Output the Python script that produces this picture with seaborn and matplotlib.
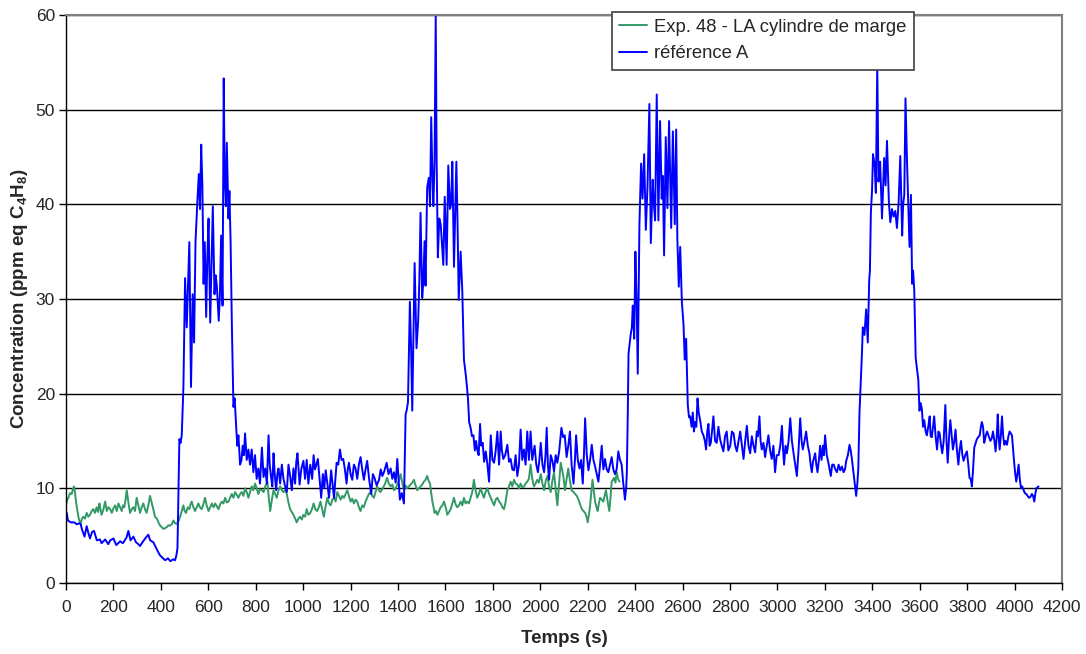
import matplotlib
matplotlib.use("Agg")
import matplotlib.pyplot as plt
import seaborn as sns
import pandas as pd

# référence A  (temps en s, concentration en ppm eq C4H8)
ref_t = [0, 3, 8, 20, 35, 45, 55, 62, 68, 78, 87, 95, 101, 110, 118, 130, 143, 150, 165, 178,
         186, 200, 212, 228, 240, 255, 263, 272, 284, 295, 305, 312, 325, 340, 347, 355, 368, 380, 390, 397,
         410, 418, 430, 440, 452, 460, 466, 470, 478, 483, 488, 495, 502, 509, 520, 527, 534, 540, 546, 554,
         560, 565, 570, 575, 580, 585, 591, 596, 601, 608, 614, 619, 626, 631, 636, 644, 649, 654, 660, 665,
         669, 674, 678, 685, 689, 694, 699, 706, 711, 716, 722, 727, 734, 740, 745, 750, 755, 762, 769, 776,
         783, 790, 797, 804, 811, 818, 826, 833, 840, 847, 854, 859, 864, 870, 875, 880, 886, 891, 896, 903,
         910, 917, 924, 931, 938, 945, 952, 959, 966, 971, 976, 985, 992, 1001, 1008, 1015, 1022, 1030, 1038, 1044,
         1050, 1062, 1069, 1076, 1083, 1089, 1095, 1102, 1109, 1118, 1124, 1130, 1136, 1141, 1148, 1155, 1162, 1169, 1176, 1183,
         1188, 1193, 1200, 1207, 1214, 1221, 1228, 1235, 1242, 1249, 1256, 1263, 1270, 1278, 1287, 1294, 1301, 1310, 1320, 1327,
         1334, 1342, 1352, 1360, 1369, 1376, 1383, 1390, 1397, 1402, 1408, 1416, 1425, 1432, 1437, 1442, 1450, 1455, 1460, 1465,
         1470, 1478, 1485, 1490, 1495, 1502, 1507, 1512, 1516, 1523, 1530, 1535, 1540, 1545, 1549, 1554, 1559, 1563, 1568, 1574,
         1580, 1585, 1591, 1597, 1605, 1612, 1619, 1624, 1629, 1636, 1641, 1646, 1651, 1656, 1664, 1671, 1678, 1687, 1695, 1700,
         1706, 1712, 1718, 1724, 1729, 1734, 1740, 1746, 1751, 1757, 1763, 1770, 1777, 1784, 1791, 1798, 1805, 1812, 1819, 1826,
         1833, 1838, 1844, 1852, 1861, 1868, 1875, 1882, 1889, 1896, 1903, 1910, 1917, 1924, 1931, 1938, 1945, 1952, 1959, 1966,
         1976, 1983, 1990, 1996, 2002, 2009, 2016, 2022, 2027, 2032, 2037, 2044, 2051, 2058, 2065, 2072, 2080, 2089, 2096, 2103,
         2111, 2118, 2125, 2132, 2140, 2146, 2151, 2158, 2165, 2172, 2179, 2184, 2189, 2196, 2203, 2210, 2217, 2224, 2231, 2238,
         2245, 2252, 2259, 2266, 2273, 2280, 2287, 2294, 2301, 2308, 2315, 2322, 2329, 2336, 2343, 2350, 2357, 2362, 2365, 2369,
         2372, 2381, 2386, 2390, 2396, 2401, 2406, 2411, 2418, 2425, 2431, 2438, 2445, 2452, 2460, 2466, 2474, 2479, 2484, 2491,
         2498, 2505, 2512, 2517, 2522, 2529, 2536, 2543, 2552, 2559, 2567, 2573, 2578, 2584, 2590, 2597, 2604, 2609, 2615, 2622,
         2627, 2632, 2638, 2643, 2648, 2653, 2658, 2663, 2668, 2674, 2681, 2688, 2694, 2699, 2704, 2709, 2714, 2719, 2724, 2730,
         2737, 2744, 2751, 2758, 2765, 2772, 2779, 2786, 2793, 2801, 2808, 2815, 2822, 2829, 2836, 2843, 2850, 2857, 2864, 2871,
         2878, 2885, 2892, 2899, 2906, 2913, 2918, 2924, 2929, 2934, 2941, 2948, 2955, 2962, 2969, 2976, 2983, 2990, 2997, 3005,
         3012, 3019, 3024, 3028, 3034, 3040, 3047, 3054, 3061, 3068, 3075, 3082, 3089, 3096, 3102, 3107, 3114, 3121, 3128, 3135,
         3140, 3145, 3150, 3155, 3159, 3164, 3169, 3175, 3180, 3186, 3192, 3196, 3201, 3208, 3215, 3220, 3225, 3231, 3237, 3244,
         3251, 3258, 3265, 3272, 3279, 3285, 3290, 3297, 3304, 3309, 3314, 3319, 3324, 3328, 3332, 3337, 3341, 3346, 3352, 3356,
         3360, 3367, 3374, 3381, 3387, 3390, 3394, 3399, 3403, 3410, 3415, 3421, 3426, 3433, 3441, 3450, 3456, 3462, 3470, 3476,
         3483, 3490, 3497, 3504, 3511, 3518, 3526, 3530, 3535, 3540, 3546, 3552, 3557, 3563, 3568, 3572, 3577, 3583, 3588, 3594,
         3599, 3604, 3609, 3614, 3619, 3625, 3630, 3636, 3642, 3646, 3651, 3656, 3661, 3667, 3673, 3679, 3684, 3690, 3695, 3701,
         3708, 3713, 3718, 3724, 3729, 3735, 3740, 3746, 3751, 3757, 3763, 3768, 3774, 3780, 3785, 3792, 3799, 3805, 3810, 3815,
         3820, 3825, 3830, 3836, 3841, 3847, 3853, 3858, 3862, 3867, 3872, 3878, 3884, 3891, 3898, 3904, 3909, 3915, 3920, 3925,
         3929, 3933, 3937, 3942, 3947, 3952, 3957, 3962, 3968, 3974, 3979, 3984, 3989, 3994, 3999, 4003, 4007, 4012, 4017, 4022,
         4027, 4032, 4038, 4043, 4049, 4055, 4061, 4067, 4073, 4078, 4083, 4088, 4092, 4101]
ref_c = [6.5, 7.4, 6.6, 6.4, 6.4, 6.2, 6.3, 6.2, 5.6, 4.9, 6.0, 5.2, 4.7, 5.4, 5.5, 4.5, 4.6, 4.2, 4.6, 4.1,
         4.5, 4.7, 4.0, 4.4, 4.2, 4.8, 5.5, 4.5, 4.9, 4.3, 4.1, 3.9, 4.4, 4.9, 5.1, 4.5, 4.3, 3.7, 3.2, 2.9,
         2.6, 2.4, 2.6, 2.3, 2.5, 2.4, 3.0, 3.7, 15.2, 14.8, 15.6, 20.7, 32.2, 27.0, 36.0, 20.7, 30.5, 25.4, 36.0, 40.4,
         43.2, 39.5, 46.3, 42.0, 31.6, 36.0, 28.1, 34.5, 38.5, 27.5, 34.0, 39.8, 30.5, 32.5, 31.4, 27.7, 30.5, 36.7, 29.3, 53.3,
         43.0, 39.8, 46.5, 38.5, 41.4, 36.0, 27.7, 18.6, 19.5, 17.2, 14.5, 15.6, 12.5, 13.0, 14.5, 13.5, 15.8, 13.0, 14.1, 12.5,
         14.1, 11.7, 13.5, 11.0, 12.1, 10.5, 14.3, 11.2, 12.1, 10.5, 15.6, 12.5, 11.3, 10.2, 13.7, 11.5, 9.8, 11.5, 12.1, 10.5,
         12.5, 11.0, 10.2, 9.6, 12.5, 11.3, 9.8, 12.1, 10.5, 12.8, 13.7, 10.4, 12.0, 12.9, 11.0, 13.0, 10.5, 12.5, 11.0, 13.5,
         12.0, 13.1, 11.0, 9.0, 11.5, 10.0, 11.9, 10.5, 9.0, 11.9, 10.5, 9.0, 11.0, 12.7, 12.5, 14.1, 13.0, 13.1, 12.0, 10.5,
         12.0, 12.7, 11.5, 10.9, 12.5, 12.1, 11.0, 12.5, 13.3, 12.0, 10.9, 12.0, 12.9, 11.0, 9.4, 11.5, 11.1, 10.3, 10.9, 12.0,
         11.3, 11.8, 12.7, 11.5, 12.1, 11.0, 11.7, 10.6, 13.1, 11.0, 8.8, 9.5, 8.4, 17.8, 18.3, 19.1, 29.7, 25.0, 18.2, 26.0,
         33.8, 24.8, 27.7, 32.0, 39.1, 30.1, 32.0, 36.1, 31.4, 41.8, 42.8, 39.8, 49.2, 43.0, 39.8, 44.5, 60.0, 44.3, 34.4, 38.5,
         37.9, 36.0, 33.6, 40.8, 33.6, 44.1, 39.5, 40.0, 44.5, 33.4, 39.0, 44.5, 38.0, 29.9, 35.0, 30.9, 23.6, 21.7, 19.5, 17.0,
         16.4, 15.5, 15.6, 14.0, 15.0, 14.1, 13.5, 16.8, 14.5, 14.8, 12.8, 13.9, 12.5, 10.7, 15.6, 13.0, 12.7, 14.0, 16.0, 12.5,
         16.0, 14.0, 13.1, 13.5, 14.6, 12.8, 13.1, 12.0, 11.9, 13.5, 11.3, 12.5, 16.2, 13.0, 14.1, 12.5, 16.0, 13.0, 16.0, 13.0,
         14.5, 12.5, 11.7, 13.0, 14.8, 12.5, 11.7, 13.5, 16.4, 12.5, 10.9, 13.5, 12.9, 11.8, 13.5, 12.7, 14.0, 16.4, 15.4, 15.6,
         13.3, 14.5, 16.0, 12.5, 10.5, 13.0, 15.6, 13.0, 12.1, 13.0, 10.5, 13.5, 17.4, 13.5, 11.9, 13.0, 14.6, 13.0, 12.3, 11.5,
         10.7, 12.5, 14.5, 12.0, 13.1, 12.0, 11.7, 12.5, 13.3, 12.0, 11.5, 12.0, 13.9, 13.0, 12.5, 10.5, 8.8, 10.0, 11.7, 18.0,
         24.2, 26.2, 27.0, 29.3, 25.8, 35.0, 30.0, 22.1, 37.9, 44.3, 40.6, 45.3, 37.3, 41.8, 50.6, 35.9, 42.6, 40.0, 38.3, 51.6,
         38.3, 48.8, 40.6, 43.0, 34.6, 47.1, 39.6, 48.8, 37.5, 47.7, 37.9, 47.9, 36.3, 31.3, 35.5, 29.7, 27.3, 23.6, 25.8, 18.8,
         17.5, 17.6, 16.5, 18.0, 16.0, 17.0, 16.5, 19.5, 18.0, 17.2, 16.0, 15.6, 15.0, 14.1, 16.0, 16.8, 14.5, 14.8, 16.0, 17.6,
         15.0, 14.8, 16.5, 15.2, 14.5, 13.9, 15.5, 16.0, 14.0, 14.5, 16.0, 15.8, 14.5, 13.9, 15.0, 16.0, 14.5, 13.1, 15.0, 16.6,
         14.5, 13.7, 15.5, 14.5, 13.8, 16.0, 15.5, 17.6, 15.0, 14.1, 14.8, 13.3, 14.5, 15.6, 14.0, 13.1, 14.5, 11.7, 13.5, 13.5,
         14.5, 16.6, 14.0, 12.5, 14.5, 13.7, 15.0, 17.4, 15.0, 13.7, 12.5, 11.3, 14.0, 17.4, 15.0, 14.1, 15.0, 16.0, 14.5, 13.7,
         12.5, 11.7, 12.8, 13.3, 13.7, 12.5, 11.7, 13.0, 14.5, 13.0, 14.5, 13.5, 15.6, 13.5, 12.7, 12.0, 11.3, 12.5, 12.5, 12.0,
         11.7, 12.5, 11.9, 12.3, 11.7, 12.0, 12.9, 13.5, 14.6, 14.0, 13.1, 12.0, 10.9, 10.0, 9.2, 10.5, 12.1, 18.0, 21.5, 24.0,
         27.0, 26.2, 28.9, 25.4, 32.0, 33.0, 39.1, 41.5, 45.3, 44.1, 41.2, 54.7, 42.4, 44.5, 38.5, 44.9, 42.0, 46.7, 40.2, 38.1,
         39.5, 38.7, 39.3, 37.5, 40.2, 45.1, 36.7, 40.0, 41.0, 51.2, 44.9, 39.8, 35.5, 41.0, 31.6, 33.0, 30.9, 23.8, 22.7, 21.5,
         18.2, 19.0, 18.4, 16.5, 17.2, 16.0, 15.6, 16.5, 17.6, 15.5, 15.4, 16.5, 17.6, 15.5, 14.1, 16.0, 15.8, 14.5, 13.7, 15.0,
         18.8, 15.0, 12.7, 15.5, 17.2, 15.5, 14.1, 15.0, 16.2, 14.0, 12.5, 14.0, 15.0, 13.5, 12.9, 13.5, 13.9, 12.5, 11.1, 11.0,
         10.2, 12.0, 14.3, 14.8, 15.2, 15.4, 15.6, 16.5, 17.0, 16.5, 14.8, 15.5, 16.0, 15.5, 15.0, 15.3, 16.0, 15.0, 13.9, 15.5,
         17.8, 15.5, 14.1, 15.5, 17.6, 15.5, 14.6, 15.0, 14.6, 15.5, 16.0, 15.8, 15.6, 14.0, 12.5, 11.5, 10.7, 11.5, 12.5, 11.0,
         10.0, 10.2, 9.8, 9.5, 9.4, 9.2, 9.0, 9.1, 9.4, 9.2, 8.6, 9.5, 10.0, 10.2]

# Exp. 48 - LA cylindre de marge
exp_t = [0, 5, 10, 17, 24, 30, 34, 38, 42, 47, 52, 57, 62, 67, 73, 80, 87, 94, 101, 108,
         115, 122, 129, 135, 141, 145, 150, 158, 165, 172, 179, 186, 193, 200, 207, 214, 221, 228, 235, 240,
         246, 251, 256, 263, 270, 277, 284, 291, 298, 305, 312, 319, 326, 333, 340, 347, 354, 361, 368, 375,
         383, 390, 397, 404, 411, 418, 425, 432, 439, 446, 453, 460, 467, 474, 481, 488, 495, 500, 506, 513,
         520, 525, 530, 537, 544, 551, 558, 565, 572, 579, 586, 593, 601, 608, 615, 622, 629, 636, 643, 650,
         657, 664, 671, 678, 685, 692, 699, 706, 713, 720, 727, 734, 741, 748, 755, 762, 769, 776, 783, 790,
         797, 804, 811, 818, 826, 833, 840, 845, 849, 855, 861, 868, 875, 882, 889, 896, 903, 910, 917, 924,
         931, 938, 945, 952, 959, 966, 973, 980, 987, 994, 1001, 1008, 1015, 1022, 1030, 1037, 1044, 1051, 1059, 1066,
         1073, 1080, 1087, 1094, 1102, 1109, 1116, 1123, 1130, 1137, 1144, 1151, 1158, 1165, 1172, 1179, 1186, 1193, 1200, 1207,
         1214, 1221, 1228, 1235, 1242, 1249, 1256, 1263, 1270, 1277, 1284, 1291, 1298, 1305, 1312, 1319, 1326, 1333, 1340, 1347,
         1354, 1361, 1369, 1376, 1383, 1390, 1397, 1404, 1411, 1418, 1425, 1432, 1439, 1446, 1453, 1460, 1467, 1474, 1481, 1488,
         1495, 1502, 1509, 1516, 1523, 1529, 1535, 1540, 1545, 1550, 1554, 1560, 1566, 1573, 1580, 1587, 1594, 1601, 1608, 1615,
         1622, 1629, 1636, 1643, 1650, 1657, 1664, 1671, 1678, 1685, 1692, 1699, 1706, 1713, 1720, 1727, 1734, 1741, 1748, 1755,
         1762, 1769, 1777, 1784, 1791, 1798, 1805, 1812, 1819, 1826, 1833, 1840, 1847, 1854, 1861, 1868, 1875, 1882, 1889, 1896,
         1903, 1910, 1917, 1924, 1931, 1938, 1945, 1952, 1959, 1966, 1973, 1980, 1987, 1994, 2002, 2009, 2016, 2023, 2030, 2037,
         2044, 2051, 2058, 2065, 2072, 2079, 2086, 2092, 2097, 2104, 2111, 2118, 2125, 2132, 2140, 2147, 2154, 2161, 2168, 2175,
         2182, 2189, 2195, 2200, 2205, 2210, 2215, 2220, 2226, 2231, 2237, 2242, 2247, 2252, 2259, 2266, 2271, 2277, 2284, 2291,
         2296, 2301, 2306, 2311, 2317, 2322, 2328, 2334]
exp_c = [8.2, 8.8, 9.0, 9.5, 9.4, 10.0, 10.2, 9.5, 8.6, 7.8, 7.0, 6.5, 6.25, 6.8, 7.0, 6.8, 7.4, 7.0, 7.2, 7.6,
         7.8, 7.4, 8.0, 7.5, 8.4, 7.8, 7.2, 7.8, 8.6, 7.6, 8.0, 7.8, 7.4, 7.9, 8.2, 7.6, 8.4, 8.0, 7.6, 8.2,
         8.0, 8.8, 9.8, 8.5, 7.4, 7.8, 8.0, 7.6, 9.0, 8.2, 7.4, 8.0, 8.4, 7.8, 7.4, 8.2, 9.2, 8.5, 7.8, 7.0,
         6.8, 6.4, 6.05, 5.9, 5.7, 5.8, 5.9, 6.1, 6.05, 6.2, 6.6, 6.3, 6.25, 6.5, 7.0, 7.6, 8.2, 7.6, 7.4, 8.0,
         7.8, 8.3, 8.6, 8.0, 7.6, 8.0, 8.4, 8.0, 7.8, 8.3, 9.0, 8.2, 7.6, 8.0, 8.4, 8.0, 8.4, 8.1, 7.8, 8.3,
         8.6, 8.4, 9.0, 8.5, 8.6, 9.0, 9.4, 9.0, 9.6, 9.3, 9.0, 9.4, 9.6, 9.2, 10.0, 9.6, 9.0, 9.6, 10.2, 9.8,
         10.5, 10.0, 9.4, 9.9, 9.8, 9.6, 10.2, 10.5, 10.7, 9.0, 7.6, 8.8, 9.8, 9.4, 9.0, 9.8, 10.2, 9.8, 9.6, 9.8,
         9.4, 8.5, 7.8, 7.5, 7.2, 6.8, 6.4, 6.8, 7.0, 6.7, 7.2, 7.0, 7.8, 7.2, 7.4, 7.8, 8.4, 7.8, 7.6, 8.0,
         8.6, 7.8, 7.0, 8.0, 9.0, 8.4, 8.2, 8.8, 9.0, 8.6, 9.6, 9.2, 8.8, 9.2, 9.0, 9.4, 9.8, 9.2, 8.6, 8.9,
         8.4, 8.8, 8.6, 8.0, 7.6, 8.2, 8.0, 8.6, 9.0, 9.4, 9.6, 9.2, 9.0, 9.6, 10.2, 9.8, 9.6, 9.9, 10.2, 10.6,
         11.1, 10.5, 10.2, 10.4, 9.8, 10.0, 10.4, 10.8, 11.5, 10.6, 9.8, 10.3, 10.0, 10.2, 10.4, 10.6, 10.9, 10.3, 9.8, 10.0,
         10.2, 10.4, 10.7, 10.9, 11.3, 10.8, 10.5, 9.5, 8.6, 8.0, 7.4, 7.6, 7.2, 7.6, 8.0, 8.2, 8.6, 8.0, 7.2, 7.5,
         7.8, 8.4, 9.0, 8.3, 8.0, 8.2, 8.6, 8.2, 9.0, 8.4, 8.6, 8.4, 9.0, 9.6, 10.9, 9.8, 9.0, 9.4, 10.0, 9.5,
         9.0, 9.6, 10.0, 9.4, 9.0, 8.6, 8.2, 8.8, 9.0, 8.6, 8.4, 8.0, 7.8, 8.6, 9.8, 10.2, 10.7, 10.2, 10.9, 10.5,
         10.4, 10.0, 10.5, 10.1, 10.2, 10.5, 10.7, 11.0, 12.5, 11.0, 10.2, 10.5, 10.9, 10.6, 11.5, 10.5, 9.8, 10.8, 11.3, 10.2,
         9.6, 10.8, 11.7, 9.8, 8.2, 10.5, 12.7, 12.0, 11.3, 9.8, 11.0, 12.1, 10.8, 9.8, 9.6, 9.4, 9.2, 8.8, 8.3, 7.8,
         7.6, 7.4, 7.0, 6.4, 7.2, 8.2, 9.5, 10.9, 9.6, 8.6, 8.0, 7.6, 8.4, 9.0, 8.8, 8.6, 9.2, 9.8, 8.6, 7.6,
         9.0, 10.7, 10.9, 11.1, 10.6, 11.7, 11.0, 10.7]

exp_label = "Exp. 48 - LA cylindre de marge"
ref_label = "référence A"

df_exp = pd.DataFrame({"Temps": exp_t, "Conc": exp_c, "serie": exp_label})
df_ref = pd.DataFrame({"Temps": ref_t, "Conc": ref_c, "serie": ref_label})
df = pd.concat([df_exp, df_ref], ignore_index=True)

sns.set_style("white")
plt.rcParams['font.family'] = ['Liberation Sans', 'DejaVu Sans']
plt.rcParams['mathtext.fontset'] = 'custom'
plt.rcParams['mathtext.rm'] = 'Liberation Sans'
plt.rcParams['mathtext.bf'] = 'Liberation Sans:bold'

fig = plt.figure(figsize=(10.86, 6.54), dpi=100)
ax = fig.add_axes([0.0608, 0.1086, 0.9171, 0.8685])

sns.lineplot(data=df, x="Temps", y="Conc", hue="serie", sort=False, estimator=None,
             palette={exp_label: "#339966", ref_label: "#0000FF"}, linewidth=1.4, ax=ax)

ax.set_xlim(0, 4200)
ax.set_ylim(0, 60)
ax.set_xticks(range(0, 4201, 200))
ax.set_yticks(range(0, 61, 10))
ax.yaxis.grid(True, color="black", linewidth=1.0)
ax.set_axisbelow(True)
ax.tick_params(axis="both", direction="out", length=5, width=1, color="black",
               labelsize=12.5, bottom=True, left=True)
ax.tick_params(axis="x", pad=7)
ax.tick_params(axis="y", pad=3)

for side in ["left", "bottom"]:
    ax.spines[side].set_color("black")
    ax.spines[side].set_linewidth(1.0)
for side in ["top", "right"]:
    ax.spines[side].set_color("#808080")
    ax.spines[side].set_linewidth(1.5)

ax.set_xlabel("Temps (s)", fontsize=13.5, fontweight="bold", labelpad=11)
ax.set_ylabel(r"Concentration (ppm eq C$_\mathbf{4}$H$_\mathbf{8}$)", fontsize=13.5,
              fontweight="bold", labelpad=4)

leg = ax.legend(loc="upper left", bbox_to_anchor=(0.548, 1.006), borderaxespad=0,
                fontsize=13.3, frameon=True, fancybox=False, title=None,
                handlelength=1.5, handletextpad=0.4, borderpad=0.4, labelspacing=0.5)
leg.get_frame().set_edgecolor("#404040")
leg.get_frame().set_linewidth(1.2)
leg.get_frame().set_facecolor("white")
leg.get_frame().set_alpha(1)
for line in leg.get_lines():
    line.set_linewidth(1.4)

fig.savefig("out.png", dpi=100)
